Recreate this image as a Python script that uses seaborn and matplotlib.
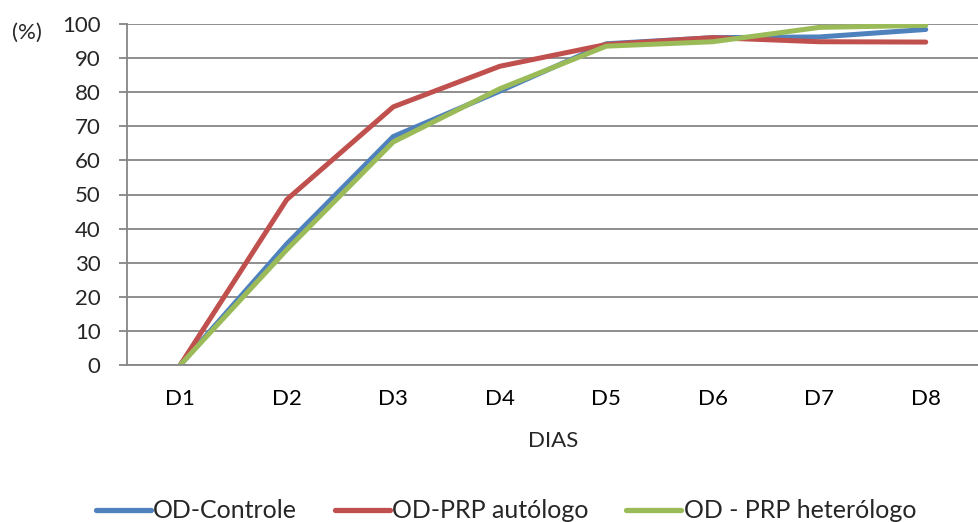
import matplotlib
matplotlib.use("Agg")
import matplotlib.pyplot as plt
import seaborn as sns
import pandas as pd
from matplotlib.lines import Line2D

days = ["D1", "D2", "D3", "D4", "D5", "D6", "D7", "D8"]
controle = [0, 35.5, 67, 80.3, 94.2, 96, 96.2, 98.4]
autologo = [0, 48.5, 75.7, 87.6, 94, 96, 94.8, 94.7]
heterologo = [0, 33.8, 65.4, 81, 93.5, 94.8, 99, 99.6]
series_names = ["OD-Controle", "OD-PRP autólogo", "OD - PRP heterólogo"]
colors = ["#4F81BD", "#C0504D", "#9BBB59"]

rows = []
for name, vals in zip(series_names, [controle, autologo, heterologo]):
    for d, v in zip(days, vals):
        rows.append({"Dia": d, "Valor": v, "Serie": name})
df = pd.DataFrame(rows)

sns.set_style("white")
plt.rcParams["font.family"] = ["Lato", "DejaVu Sans"]
FS = 16

fig = plt.figure(figsize=(9.79, 5.22), dpi=100)
ax = fig.add_axes([127/979, 1-365/522, 1-127/979, (365-24)/522])

sns.lineplot(data=df, x="Dia", y="Valor", hue="Serie", palette=colors,
             hue_order=series_names, sort=False, linewidth=3.6, ax=ax,
             legend=False, solid_capstyle="round")

ax.set_ylim(0, 100)
ax.set_xlim(-0.5, 7.4)
ax.set_yticks(range(0, 101, 10))
ax.set_xticks(range(len(days)))
ax.set_xticklabels(days)
ax.set_xticks([i - 0.5 for i in range(9)], minor=True)
ax.grid(axis="y", color="#868686", linewidth=1.3)
ax.set_axisbelow(True)
for s in ["top", "right"]:
    ax.spines[s].set_visible(False)
for s in ["left", "bottom"]:
    ax.spines[s].set_color("#868686")
    ax.spines[s].set_linewidth(1.3)
ax.tick_params(axis="x", which="major", length=0, labelsize=FS, pad=17, colors="black")
ax.tick_params(axis="x", which="minor", length=6, width=1.3, color="#868686", direction="out")
ax.tick_params(axis="y", length=6, width=1.3, color="#868686", labelsize=FS, pad=13, left=True)
ax.set_xlabel("DIAS", fontsize=FS, labelpad=16)
ax.set_ylabel("")
fig.text(27/979, 1-33/522, "(%)", fontsize=FS, ha="center", va="center")

handles = [Line2D([], [], color=c, linewidth=3.8, solid_capstyle="round") for c in colors]
fig.legend(handles, series_names, loc="center", bbox_to_anchor=(506/979, 1-511/522),
           ncol=3, frameon=False, fontsize=18, handlelength=2.2, handletextpad=0.1,
           columnspacing=1.5, borderpad=0)

fig.savefig("out.png", dpi=100)
